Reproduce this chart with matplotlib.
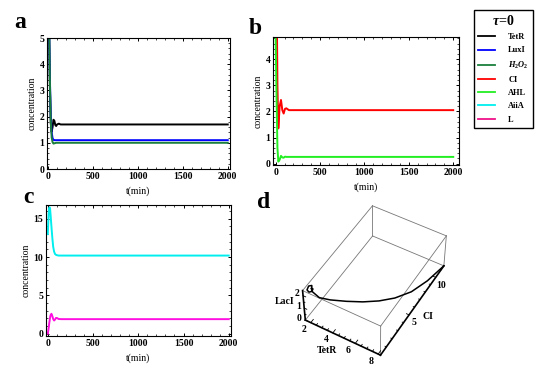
import numpy as np
import matplotlib
matplotlib.use("Agg")
import matplotlib.pyplot as plt
from matplotlib.ticker import MultipleLocator
from matplotlib.lines import Line2D
from matplotlib.transforms import offset_copy
from mpl_toolkits.mplot3d import proj3d

plt.rcParams['font.family'] = ['Liberation Serif', 'DejaVu Serif']
plt.rcParams['font.weight'] = 'bold'
plt.rcParams['mathtext.fontset'] = 'custom'
plt.rcParams['mathtext.rm'] = 'Liberation Serif:bold'
plt.rcParams['mathtext.it'] = 'Liberation Serif:italic:bold'
plt.rcParams['axes.linewidth'] = 0.8

# ---------------- data ----------------
xticks = [0, 500, 1000, 1500, 2000]

# panel a
t_a = [0, 10, 20, 30, 40, 50, 60, 70, 80, 90, 100, 120, 140, 160, 200, 2000]
tetr = [8.0, 5.5, 3.2, 1.75, 1.42, 1.6, 1.88, 1.84, 1.68, 1.64, 1.70, 1.73, 1.70, 1.70, 1.70, 1.70]
luxi = [9.0, 6.0, 3.5, 2.0, 1.4, 1.18, 1.11, 1.10, 1.10, 1.10, 1.10, 1.10, 1.10, 1.10, 1.10, 1.10]
h2o2 = [10.0, 6.2, 3.4, 1.8, 1.2, 1.02, 0.97, 0.98, 0.99, 1.0, 1.0, 1.0, 1.0, 1.0, 1.0, 1.0]

# panel b
t_b = [0, 10, 20, 30, 45, 60, 75, 90, 105, 120, 150, 200, 2000]
ci = [12.0, 7.0, 3.0, 1.35, 2.2, 2.44, 2.05, 1.92, 2.1, 2.12, 2.05, 2.05, 2.05]
ahl = [4.8, 2.5, 0.6, 0.08, 0.15, 0.30, 0.24, 0.23, 0.27, 0.26, 0.26, 0.26, 0.26]

# panel c
t_c = [0, 5, 10, 15, 20, 25, 30, 40, 50, 60, 70, 80, 90, 100, 120, 150, 2000]
aiia = [13.0, 14.5, 15.8, 16.4, 16.5, 16.3, 15.6, 14.0, 12.5, 11.3, 10.7, 10.4, 10.3, 10.25, 10.2, 10.2, 10.2]
lval = [0.0, 0.4, 0.8, 1.3, 1.7, 2.1, 2.4, 2.6, 2.3, 1.9, 1.72, 1.85, 2.05, 2.05, 1.92, 1.9, 1.9]

# panel d (trajectory TetR, CI, LacI)
traj_tetr = [8.2, 7.9, 7.4, 6.7, 5.9, 5.0, 4.0, 3.0, 2.3, 1.7, 1.6, 1.5, 1.45, 1.55, 1.7, 1.75, 1.65]
traj_ci = [11.6, 9.0, 7.04, 5.44, 4.23, 3.21, 2.32, 1.54, 1.06, 1.0, 1.2, 0.9, 0.7, 0.8, 1.0, 1.1, 1.0]
traj_laci = [0.0, 0.2, 0.3, 0.5, 0.7, 0.9, 1.1, 1.3, 1.5, 1.8, 2.1, 2.2, 2.0, 1.8, 1.8, 1.95, 2.0]
d_tetr_ticks = [2, 4, 6, 8]
d_ci_ticks = [5, 10]
d_laci_ticks = [0, 1, 2]
d_lims = {'tetr': (1.5, 8.2), 'ci': (0, 11.6), 'laci': (0, 2.4)}

labels = ['TetR', 'LuxI', '$\\mathit{H_2O_2}$', 'CI', 'AHL', 'AiiA', 'L']
colors = ['#000000', '#0000ff', '#1a7f3c', '#ff0000', '#22ee22', '#00eeee', '#ff10e0']
leg_colors = ['#000000', '#0000ff', '#1a7f3c', '#ff0000', '#22ee22', '#00eeee', '#ee1188']

W, H = 559, 371
fig = plt.figure(figsize=(W / 100, H / 100), dpi=100)


def box(l, t, r, b):
    return [l / W, 1 - b / H, (r - l) / W, (b - t) / H]


def style(ax, ymaj, ymin):
    ax.set_xticks(xticks)
    ax.xaxis.set_minor_locator(MultipleLocator(100))
    ax.yaxis.set_major_locator(MultipleLocator(ymaj))
    ax.yaxis.set_minor_locator(MultipleLocator(ymin))
    ax.tick_params(which='both', direction='in', top=True, right=True, labelsize=7, pad=2)
    ax.tick_params(which='major', length=2.5, width=0.7)
    ax.tick_params(which='minor', length=1.3, width=0.5)
    ax.set_xlabel('t(min)', fontsize=7, labelpad=4)
    ax.set_ylabel('concentration', fontsize=7, labelpad=2)
    for lab in ax.get_xticklabels() + ax.get_yticklabels():
        lab.set_fontweight('bold')


lw = 1.4
ax_a = fig.add_axes(box(47, 38, 230, 169))
for s, c in zip([tetr, luxi, h2o2], colors[:3]):
    ax_a.plot(t_a, s, color=c, lw=lw)
ax_a.set_xlim(-12, 2025)
ax_a.set_ylim(0, 5)
style(ax_a, 1, 0.2)

ax_b = fig.add_axes(box(273, 37, 459, 165))
ax_b.plot(t_b, ci, color=colors[3], lw=lw)
ax_b.plot(t_b, ahl, color=colors[4], lw=lw)
ax_b.set_xlim(-30, 2065)
ax_b.set_ylim(-0.05, 4.85)
style(ax_b, 1, 0.2)

ax_c = fig.add_axes(box(46, 205, 231, 336))
ax_c.plot(t_c, aiia, color=colors[5], lw=lw)
ax_c.plot(t_c, lval, color=colors[6], lw=lw)
ax_c.set_xlim(-20, 2025)
ax_c.set_ylim(-0.3, 16.8)
style(ax_c, 5, 1)

for txt, x, y in [('a', 20, 22), ('b', 255, 28), ('c', 28, 197), ('d', 264, 203)]:
    fig.text(x / W, 1 - y / H, txt, fontsize=17, fontweight='bold', ha='center', va='center')

# legend
handles = [Line2D([], [], color=c, lw=1.3) for c in leg_colors]
leg = fig.legend(handles, labels, loc='upper left', bbox_to_anchor=(474 / W, 1 - 10 / H),
                 fontsize=6, title='$\\tau$=0', title_fontsize=10, frameon=True, fancybox=False,
                 edgecolor='black', framealpha=1, handlelength=2.0, handletextpad=1.6,
                 labelspacing=0.62, borderpad=0.5, borderaxespad=0)
leg.get_frame().set_linewidth(1.0)
for t in leg.get_texts():
    t.set_fontweight('bold')

# panel d: 3D, box and axes drawn from the limits
ax_d = fig.add_axes(box(279, 194, 469, 366), projection='3d')
ax_d.set_axis_off()
ax_d.plot(traj_tetr, traj_ci, traj_laci, color='black', lw=1.1, zorder=5)
x0, x1 = d_lims['tetr']
y0, y1 = d_lims['ci']
z0, z1 = d_lims['laci']
ax_d.set_xlim(x0, x1)
ax_d.set_ylim(y0, y1)
ax_d.set_zlim(z0, z1)
ax_d.set_proj_type('persp', focal_length=1.0)
ax_d.view_init(elev=49, azim=-60)
ax_d.set_box_aspect((1.1, 1.7, 0.58), zoom=0.93)

grey = '#777777'
edges = [
    ([x0, x1], [y1, y1], [z0, z0]), ([x0, x0], [y0, y1], [z0, z0]),
    ([x0, x1], [y0, y0], [z1, z1]), ([x0, x1], [y1, y1], [z1, z1]),
    ([x0, x0], [y0, y1], [z1, z1]), ([x1, x1], [y0, y1], [z1, z1]),
    ([x0, x0], [y1, y1], [z0, z1]), ([x1, x1], [y0, y0], [z0, z1]),
    ([x1, x1], [y1, y1], [z0, z1]),
]
for xs, ys, zs in edges:
    ax_d.plot(xs, ys, zs, color=grey, lw=0.6)
# axis edges (black)
ax_d.plot([x0, x1], [y0, y0], [z0, z0], color='black', lw=1.2)
ax_d.plot([x1, x1], [y0, y1], [z0, z0], color='black', lw=1.2)
ax_d.plot([x0, x0], [y0, y0], [z0, z1], color='black', lw=1.2)
# tick marks
tk_y = 0.035 * (y1 - y0)
tk_x = 0.035 * (x1 - x0)
for v in np.arange(2, 8.01, 0.5):
    f = 1.0 if v in d_tetr_ticks else 0.5
    ax_d.plot([v, v], [y0, y0 + tk_y * f], [z0, z0], color='black', lw=0.6)
for v in np.arange(1, 11.01, 1):
    f = 1.0 if v in d_ci_ticks else 0.5
    ax_d.plot([x1, x1 - tk_x * f], [v, v], [z0, z0], color='black', lw=0.6)
for v in np.arange(0, 2.01, 0.5):
    f = 1.0 if v in d_laci_ticks else 0.5
    ax_d.plot([x0, x0 + tk_x * f], [y0, y0], [v, v], color='black', lw=0.6)

# labels: place as 2D texts at projected positions with pixel offsets
fig.canvas.draw()
M = ax_d.get_proj()


def label3d(x, y, z, s, dx, dy, ha='center'):
    px, py, _ = proj3d.proj_transform(x, y, z, M)
    tr = offset_copy(ax_d.transData, fig=fig, x=dx, y=-dy, units='dots')
    fig.text(px, py, s, transform=tr, fontsize=7, fontweight='bold', ha=ha, va='center')


for v in d_tetr_ticks:
    label3d(v, y0, z0, str(v), -7, 7)
for v in d_ci_ticks:
    label3d(x1, v, z0, str(v), 5, 8)
for v in d_laci_ticks:
    label3d(x0, y0, v, str(v), -6, -2)
label3d(0.5 * (x0 + x1), y0, z0, 'TetR', -15, 13)
label3d(x1, 0.5 * (y0 + y1), z0, 'CI', 14, 8)
label3d(x0, y0, 0.5 * (z0 + z1), 'LacI', -10, -4, ha='right')

fig.savefig('out.png', dpi=100)
